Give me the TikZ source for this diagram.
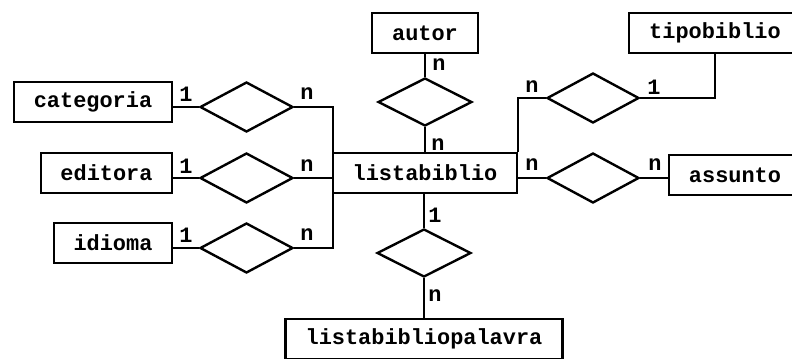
\documentclass[tikz,border=0pt]{standalone}
\usepackage{fontspec}
\setmonofont{Liberation Mono}
\usetikzlibrary{shapes.geometric}
\begin{document}
\begin{tikzpicture}[x=1bp,y=-1bp,
  lw/.style={line width=2.4bp},
  txt/.style={font=\ttfamily\bfseries\fontsize{22}{26}\selectfont},
  ent/.style={draw, lw, txt, minimum height=40bp, inner sep=0pt},
  rel/.style={draw, lw, diamond, minimum width=93bp, minimum height=50bp, inner sep=0pt},
  card/.style={txt, inner sep=0pt},
  conn/.style={lw}]
\fill[white] (0,0) rectangle (792,358);
\useasboundingbox (0,0) rectangle (792,358);
\clip (0,0) rectangle (792,358);
% entities
\node[ent, minimum width=158bp] (ca) at (93,102) {categoria};
\node[ent, minimum width=131bp] (ed) at (106.5,173) {editora};
\node[ent, minimum width=118bp] (id) at (113,243) {idioma};
\node[ent, minimum width=106bp] (au) at (425,33) {autor};
\node[ent, minimum width=172bp] (tb) at (715,33) {tipobiblio};
\node[ent, minimum width=184bp] (lb) at (425,173) {listabiblio};
\node[ent, minimum width=132bp] (as) at (735,175) {assunto};
\node[ent, minimum width=277bp] (lp) at (424,339) {listabibliopalavra};
% relationships
\node[rel] (rc) at (246.5,107) {};
\node[rel] (re) at (246.5,178) {};
\node[rel] (ri) at (246.5,248) {};
\node[rel, minimum width=94bp, minimum height=48bp] (ra) at (425,102) {};
\node[rel, minimum width=92bp] (rt) at (593,98) {};
\node[rel, minimum width=92bp] (rs) at (593,178) {};
\node[rel, minimum width=94bp, minimum height=48bp] (rp) at (424,253) {};
% junction points
\coordinate (tl) at (333,107);
\coordinate (bl) at (333,248);
% connectors
\draw[conn] (ca.east |- rc.west) -- (rc.west);
\draw[conn] (ed.east |- re.west) -- (re.west);
\draw[conn] (id.east |- ri.west) -- (ri.west);
\draw[conn] (rc.east) -- (tl) -- (bl) -- (ri.east);
\draw[conn] (re.east) -- (re.east -| lb.west);
\draw[conn] (au.south) -- (ra.north);
\draw[conn] (ra.south) -- (lb.north);
\draw[conn] (rt.west) -- (rt.west -| lb.east) -- (lb.north east);
\draw[conn] (rt.east) -| (tb.south);
\draw[conn] (lb.east |- rs.west) -- (rs.west);
\draw[conn] (rs.east) -- (as.west |- rs.east);
\draw[conn] (rp.north |- lb.south) -- (rp.north);
\draw[conn] (rp.south) -- (lp.north);
% cardinalities
\node[card] (c1) at (186,94) {1};
\node[card] (c2) at (307,94) {n};
\node[card] (c3) at (186,166) {1};
\node[card] (c4) at (307,166) {n};
\node[card] (c5) at (186,235) {1};
\node[card] (c6) at (307,235) {n};
\node[card] (c7) at (439,65) {n};
\node[card] (c8) at (438,145) {n};
\node[card] (c9) at (532,87) {n};
\node[card] (c10) at (654,87) {1};
\node[card] (c11) at (532,165) {n};
\node[card] (c12) at (655,165) {n};
\node[card] (c13) at (435,215) {1};
\node[card] (c14) at (435,296) {n};
\end{tikzpicture}
\end{document}
